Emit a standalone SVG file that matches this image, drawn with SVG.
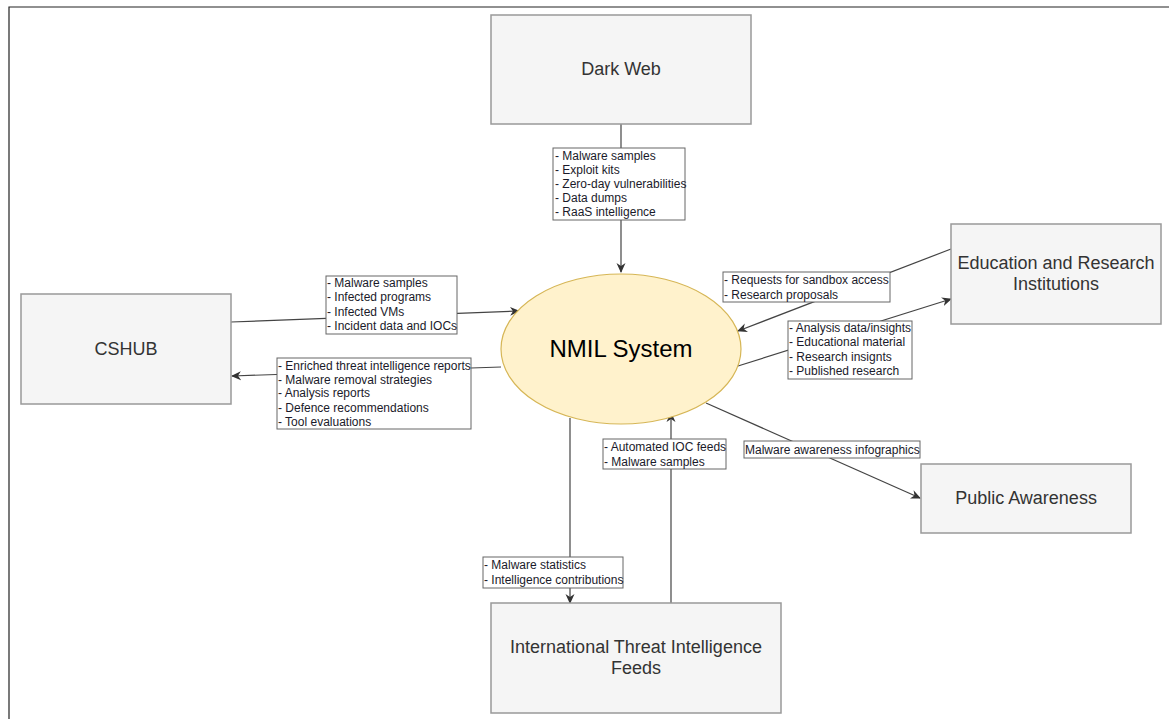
<svg xmlns="http://www.w3.org/2000/svg" width="1169" height="719" viewBox="0 0 1169 719">
<defs>
<marker id="arr" viewBox="0 0 10 10" refX="9" refY="5" markerWidth="10" markerHeight="10" markerUnits="userSpaceOnUse" orient="auto">
<path d="M0,0.5 L10,5 L0,9.5 L3,5 Z" fill="#333"/>
</marker>
<style>
.node rect{fill:#f5f5f5;stroke:#999;stroke-width:1.5}
.nt{font-family:"Liberation Sans",Arial,sans-serif;font-size:18px;fill:#333;text-anchor:middle}
.c{fill:none;stroke:#444;stroke-width:1.2}
.lb{fill:#fff;stroke:#666;stroke-width:1}
.lt{font-family:"Liberation Sans",Arial,sans-serif;font-size:12px;fill:#1a1a2a}
</style>
</defs>
<rect width="1169" height="719" fill="#fff"/>
<path d="M9,719 L9,7 L1169,7" fill="none" stroke="#222" stroke-width="1.2"/>

<g id="connectors">
<line class="c" x1="621" y1="124" x2="621" y2="272" marker-end="url(#arr)"/>
<line class="c" x1="231" y1="322" x2="519" y2="311" marker-end="url(#arr)"/>
<line class="c" x1="501" y1="367" x2="232" y2="376" marker-end="url(#arr)"/>
<line class="c" x1="951" y1="249" x2="738" y2="331" marker-end="url(#arr)"/>
<line class="c" x1="738" y1="366" x2="951" y2="299" marker-end="url(#arr)"/>
<line class="c" x1="706" y1="403" x2="920" y2="498" marker-end="url(#arr)"/>
<line class="c" x1="671" y1="603" x2="671" y2="413" marker-end="url(#arr)"/>
<line class="c" x1="570" y1="418" x2="570" y2="603" marker-end="url(#arr)"/>

<rect class="lb" x="553" y="148" width="132" height="72"/>
<text class="lt" x="555" y="160">- Malware samples</text>
<text class="lt" x="555" y="174">- Exploit kits</text>
<text class="lt" x="555" y="188">- Zero-day vulnerabilities</text>
<text class="lt" x="555" y="202">- Data dumps</text>
<text class="lt" x="555" y="216">- RaaS intelligence</text>

<rect class="lb" x="326" y="276" width="131" height="58"/>
<text class="lt" x="327" y="287">- Malware samples</text>
<text class="lt" x="327" y="301">- Infected programs</text>
<text class="lt" x="327" y="316">- Infected VMs</text>
<text class="lt" x="327" y="330">- Incident data and IOCs</text>

<rect class="lb" x="277" y="358" width="194" height="71"/>
<text class="lt" x="278" y="370">- Enriched threat intelligence reports</text>
<text class="lt" x="278" y="384">- Malware removal strategies</text>
<text class="lt" x="278" y="397">- Analysis reports</text>
<text class="lt" x="278" y="412">- Defence recommendations</text>
<text class="lt" x="278" y="426">- Tool evaluations</text>

<rect class="lb" x="723" y="272" width="167" height="30"/>
<text class="lt" x="724" y="284">- Requests for sandbox access</text>
<text class="lt" x="724" y="299">- Research proposals</text>

<rect class="lb" x="788" y="321" width="124" height="58"/>
<text class="lt" x="789" y="332">- Analysis data/insights</text>
<text class="lt" x="789" y="346">- Educational material</text>
<text class="lt" x="789" y="361">- Research insignts</text>
<text class="lt" x="789" y="375">- Published research</text>

<rect class="lb" x="744" y="441" width="176" height="17"/>
<text class="lt" x="745" y="454">Malware awareness infographics</text>

<rect class="lb" x="603" y="439" width="123" height="30"/>
<text class="lt" x="604" y="451">- Automated IOC feeds</text>
<text class="lt" x="604" y="466">- Malware samples</text>

<rect class="lb" x="483" y="557" width="140" height="31"/>
<text class="lt" x="484" y="569">- Malware statistics</text>
<text class="lt" x="484" y="584">- Intelligence contributions</text>
</g>

<g id="dark-web" class="node">
<rect x="491" y="15" width="260" height="109"/>
<text class="nt" x="621" y="75">Dark Web</text>
</g>
<g id="nmil-system">
<ellipse cx="621" cy="349" rx="120" ry="75" fill="#fff2cc" stroke="#d6b656" stroke-width="1.2"/>
<text x="621" y="357" font-family="'Liberation Sans',Arial,sans-serif" font-size="24" fill="#000" text-anchor="middle">NMIL System</text>
</g>
<g id="cshub" class="node">
<rect x="21" y="294" width="210" height="110"/>
<text class="nt" x="126" y="355">CSHUB</text>
</g>
<g id="education" class="node">
<rect x="951" y="224" width="210" height="100"/>
<text class="nt" x="1056" y="269">Education and Research</text>
<text class="nt" x="1056" y="290">Institutions</text>
</g>
<g id="public-awareness" class="node">
<rect x="921" y="464" width="210" height="69"/>
<text class="nt" x="1026" y="504">Public Awareness</text>
</g>
<g id="itif" class="node">
<rect x="491" y="603" width="290" height="110"/>
<text class="nt" x="636" y="653">International Threat Intelligence</text>
<text class="nt" x="636" y="674">Feeds</text>
</g>
</svg>
